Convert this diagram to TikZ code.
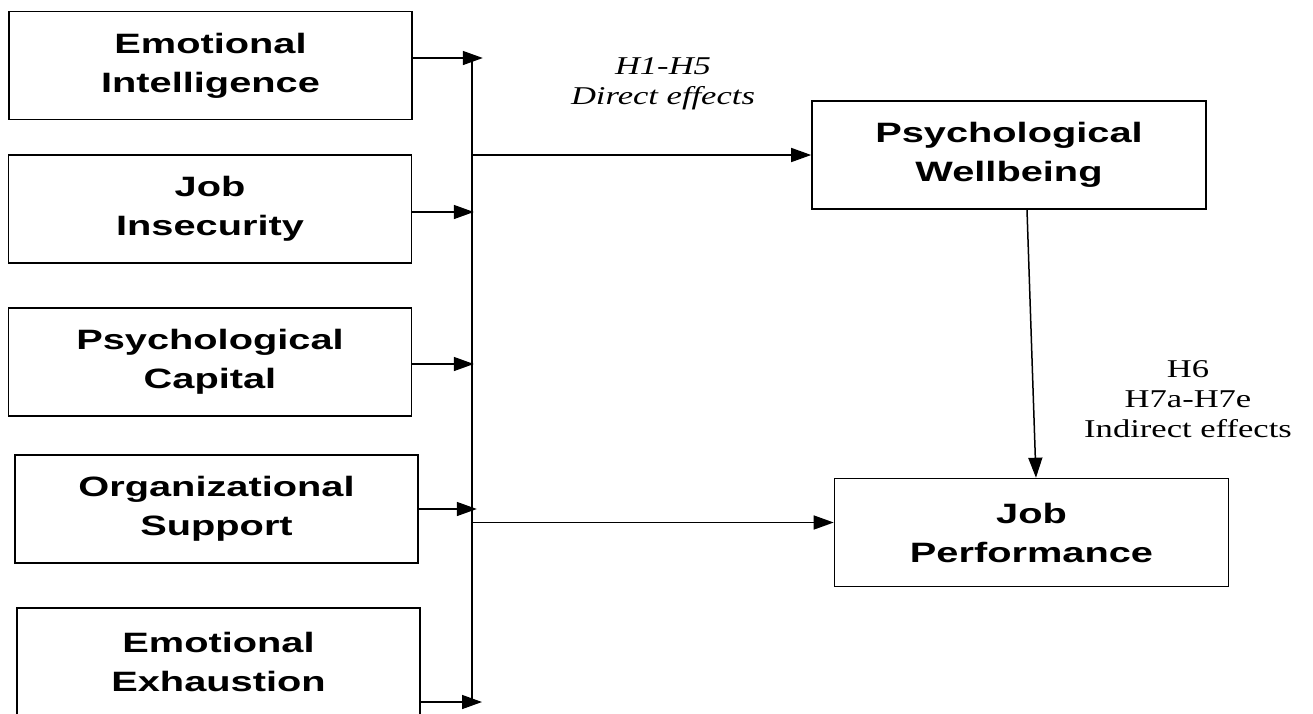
\documentclass[tikz,border=0pt]{standalone}
\usepackage{fontspec}
\usetikzlibrary{arrows.meta}
\newfontfamily\boxfont{Liberation Sans}[FakeStretch=1.42]
\newfontfamily\labfont{Liberation Serif}[FakeStretch=1.35]
\begin{document}
\begin{tikzpicture}[x=0.5pt,y=-0.5pt,
    var/.style={draw,line width=0.8pt,minimum height=54pt,inner sep=0pt,align=center,
        font=\boxfont\bfseries\fontsize{14}{19.5}\selectfont},
    lvar/.style={var,minimum width=201.5pt},
    rvar/.style={var,minimum width=197pt},
    lab/.style={align=center,font=\labfont\fontsize{12.8}{15}\selectfont},
    arr/.style={line width=0.75pt,-{Triangle[length=10pt,width=7pt]}}]
    \useasboundingbox (0,0) rectangle (1313,713);
    \node[lvar] (EI) at (210.5,65.5) {Emotional\\Intelligence};
    \node[lvar] (JI) at (210,209) {Job\\Insecurity};
    \node[lvar] (PC) at (210,362) {Psychological\\Capital};
    \node[lvar] (OS) at (216.5,509) {Organizational\\Support};
    \node[lvar] (EE) at (218.5,662) {Emotional\\Exhaustion};
    \node[rvar] (PW) at (1009,155) {Psychological\\Wellbeing};
    \node[rvar] (JP) at (1031.5,532.5) {Job\\Performance};
    \coordinate (bustop) at (472,58);
    \coordinate (busbot) at (472,702);
    \path ([yshift=5pt]JP.west) coordinate (jpin);
    \draw[line width=0.75pt] (bustop) -- (busbot);
    \draw[arr] ([yshift=3.75pt]EI.east) -- ++(70,0);
    \draw[arr] ([yshift=-1.5pt]JI.east) -- ++(61.5,0);
    \draw[arr] ([yshift=-1pt]PC.east) -- ++(61.5,0);
    \draw[arr] (OS.east) -- ++(58,0);
    \draw[arr] ([yshift=-20pt]EE.east) -- ([xshift=5pt]busbot);
    \draw[arr] (bustop |- PW.west) -- (PW.west);
    \draw[arr] (bustop |- jpin) -- (jpin);
    \draw[arr] ([xshift=9pt]PW.south) -- ([xshift=2.25pt]JP.north);
    \node[lab] (direct) at (663,84) {\itshape H1-H5\\\itshape Direct effects};
    \node[lab] (indirect) at (1188,399) {H6\\H7a-H7e\\Indirect effects};
\end{tikzpicture}
\end{document}
